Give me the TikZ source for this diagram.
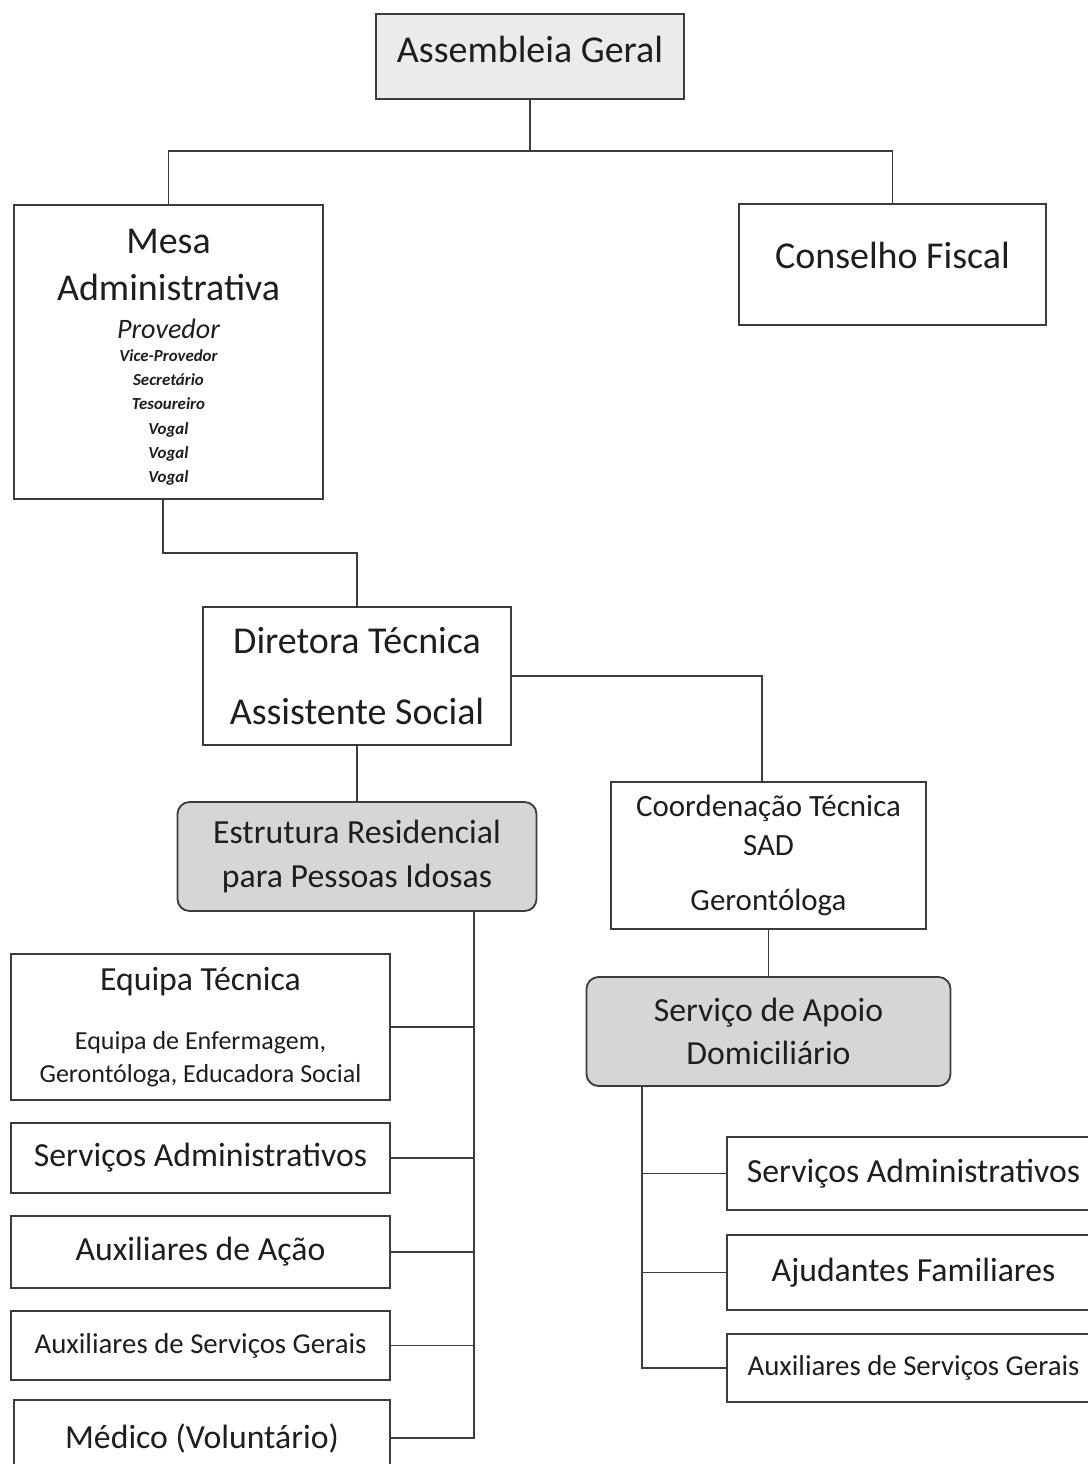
\documentclass[tikz,border=0pt]{standalone}
\usepackage{fontspec}
\setmainfont{Carlito}
\definecolor{linhacor}{HTML}{3C3C3C}
\definecolor{textocor}{HTML}{1E1E1E}
\definecolor{cinza}{HTML}{D6D6D6}
\definecolor{cinzaclaro}{HTML}{EBEBEB}
\tikzset{
	caixa/.style={draw=linhacor, line width=1.3pt, fill=white, text=textocor, align=center, inner sep=0pt},
	caixacinza/.style={caixa, rounded corners=0.3cm, fill=cinza},
	texto/.style={text=textocor, align=center, inner sep=0pt},
	linha/.style={draw=linhacor, line width=1.3pt},
	grande/.style={font=\fontsize{27}{34}\selectfont},
	medio/.style={font=\fontsize{24}{31}\selectfont}
}
\begin{document}
\begin{tikzpicture}
					\path[use as bounding box, clip] (0,0) rectangle (27.2,-36.6);
					\fill[white] (0,0) rectangle (27.2,-36.6);
					
					\node[caixa, grande, fill=cinzaclaro, text depth=0.35cm, minimum width=7.7cm, minimum height=2.125cm] (assembleia) at (13.25,-1.4125) {Assembleia Geral};
					\node[caixa, minimum width=7.725cm, minimum height=7.35cm] (mesa) at (4.2125,-8.8) {};
					\node[texto, grande] (mesanome) at (4.2125,-6.625) {Mesa\\Administrativa};
					\node[texto, font=\fontsize{20}{24}\selectfont\itshape] (provedor) at (4.2125,-8.225) {Provedor};
					\node[texto, font=\fontsize{12}{17.2}\selectfont\bfseries\itshape] (cargos) at (4.2125,-10.4375) {Vice-Provedor\\Secretário\\Tesoureiro\\Vogal\\Vogal\\Vogal};
					\node[caixa, grande, text depth=0.45cm, minimum width=7.675cm, minimum height=3.025cm] (conselho) at (22.3125,-6.6125) {Conselho Fiscal};
					
					\node[caixa, font=\fontsize{27}{51}\selectfont, minimum width=7.7cm, minimum height=3.45cm] (diretora) at (8.925,-16.9) {Diretora Técnica\\Assistente Social};
					\node[caixacinza, font=\fontsize{24}{32}\selectfont, minimum width=8.975cm, minimum height=2.725cm] (erpi) at (8.925,-21.4125) {Estrutura Residencial\\para Pessoas Idosas};
					\node[caixa, font=\fontsize{22}{27.7}\selectfont, minimum width=7.875cm, minimum height=3.675cm] (coordenacao) at (19.2125,-21.3875) {Coordenação Técnica\\SAD\\[12pt]Gerontóloga};
					\node[caixacinza, medio, minimum width=9.1cm, minimum height=2.725cm] (sad) at (19.2125,-25.7875) {Serviço de Apoio\\Domiciliário};
					
					\node[caixa, font=\fontsize{18.5}{23.5}\selectfont, minimum width=9.475cm, minimum height=3.65cm] (equipa) at (5.0125,-25.675) {{\fontsize{24}{28}\selectfont Equipa Técnica}\\[18.5pt]Equipa de Enfermagem,\\Gerontóloga, Educadora Social};
					\node[caixa, medio, minimum width=9.475cm, minimum height=1.75cm] (servadm) at (5.0125,-28.95) {Serviços Administrativos};
					\node[caixa, medio, minimum width=9.475cm, minimum height=1.8cm] (auxacao) at (5.0125,-31.3) {Auxiliares de Ação};
					\node[caixa, font=\fontsize{20.5}{25}\selectfont, minimum width=9.475cm, minimum height=1.725cm] (auxgerais) at (5.0125,-33.6375) {Auxiliares de Serviços Gerais};
					\node[caixa, medio, minimum width=9.4cm, minimum height=1.9cm] (medico) at (5.05,-35.95) {Médico (Voluntário)};
					
					\node[caixa, medio, minimum width=9.325cm, minimum height=1.825cm] (servadmsad) at (22.8375,-29.3375) {Serviços Administrativos};
					\node[caixa, medio, minimum width=9.325cm, minimum height=1.875cm] (ajudantes) at (22.8375,-31.8125) {Ajudantes Familiares};
					\node[caixa, font=\fontsize{20.5}{25}\selectfont, minimum width=9.325cm, minimum height=1.7cm] (auxgeraissad) at (22.8375,-34.2) {Auxiliares de Serviços Gerais};
					
					\path (assembleia.south) ++(0,-1.275) coordinate (juncao);
					\draw[linha] (assembleia.south) -- (juncao);
					\draw[linha] (mesa.north) |- (juncao) -| (conselho.north);
					\draw[linha] (mesa.south) ++(-0.14,0) -- ++(0,-1.325) -| (diretora.north);
					\draw[linha] (diretora.east) -| ([xshift=-0.16cm]coordenacao.north);
					\draw[linha] (diretora.south) -- (erpi.north);
					\draw[linha] (coordenacao.south) -- (sad.north);
					
					\coordinate (troncoerpi) at (11.85,-22.775);
					\draw[linha] (troncoerpi) |- (medico.east);
					\draw[linha] (equipa.east) -- (equipa.east -| troncoerpi);
					\draw[linha] (servadm.east) -- (servadm.east -| troncoerpi);
					\draw[linha] (auxacao.east) -- (auxacao.east -| troncoerpi);
					\draw[linha] (auxgerais.east) -- (auxgerais.east -| troncoerpi);
					
					\coordinate (troncosad) at (16.05,-27.15);
					\draw[linha] (troncosad) |- (auxgeraissad.west);
					\draw[linha] (servadmsad.west) -- (servadmsad.west -| troncosad);
					\draw[linha] (ajudantes.west) -- (ajudantes.west -| troncosad);
\end{tikzpicture}
\end{document}
